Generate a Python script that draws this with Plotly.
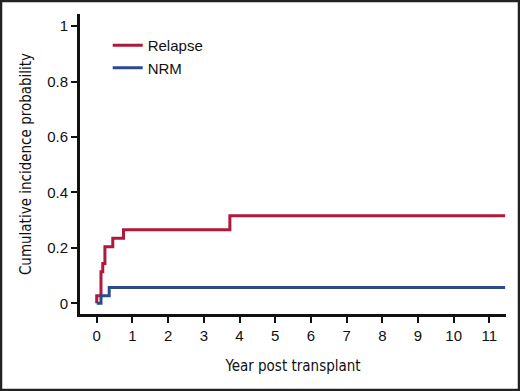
import plotly.graph_objects as go

relapse_x = [0, 0, 0.12, 0.17, 0.23, 0.45, 0.75, 3.73, 11.44]
relapse_y = [0, 0.027, 0.114, 0.144, 0.204, 0.235, 0.265, 0.316, 0.316]
nrm_x = [0, 0.12, 0.35, 11.44]
nrm_y = [0, 0.027, 0.057, 0.057]
x_ticks = list(range(0, 12))
y_ticks = [0, 0.2, 0.4, 0.6, 0.8, 1]
y_ticklabels = ["0", "0.2", "0.4", "0.6", "0.8", "1"]

W, H = 520, 391
ML, MR, MT, MB = 80, 14, 14, 77
pw, ph = W - ML - MR, H - MT - MB

fig = go.Figure()
fig.add_trace(go.Scatter(x=relapse_x, y=relapse_y, mode="lines", line_shape="hv",
                         name="Relapse", line=dict(color="#B0193D", width=3)))
fig.add_trace(go.Scatter(x=nrm_x, y=nrm_y, mode="lines", line_shape="hv",
                         name="NRM", line=dict(color="#2D4A8A", width=3)))

def px2paper_x(p):
    return (p - ML) / pw

def px2paper_y(p):
    return (H - MB - p) / ph

fig.add_shape(type="rect", xref="paper", yref="paper",
              x0=px2paper_x(1), x1=px2paper_x(W - 1),
              y0=px2paper_y(H - 1), y1=px2paper_y(1),
              line=dict(color="#222222", width=2.5), layer="above")

title_font = dict(family="DejaVu Sans Condensed, Liberation Sans Narrow, Arial Narrow, sans-serif", size=15)

fig.update_layout(
    width=W, height=H,
    margin=dict(l=ML, r=MR, t=MT, b=MB),
    plot_bgcolor="white", paper_bgcolor="white",
    font=dict(family="Liberation Sans, Arial, sans-serif", size=15, color="#111111"),
    showlegend=True,
    legend=dict(x=0.065, y=0.95, xanchor="left", yanchor="top",
                bgcolor="rgba(0,0,0,0)", font=dict(size=15), tracegroupgap=0),
    xaxis=dict(range=[-0.468, 11.465], tickvals=x_ticks, ticks="outside", ticklen=6,
               tickwidth=2, tickcolor="#111", showline=True, linewidth=3, linecolor="#111",
               showgrid=False, zeroline=False,
               title=dict(text="Year post transplant", font=title_font, standoff=18)),
    yaxis=dict(range=[-0.0386, 1.044], tickvals=y_ticks, ticktext=y_ticklabels,
               ticks="outside", ticklen=6, tickwidth=2, tickcolor="#111",
               showline=True, linewidth=3, linecolor="#111",
               showgrid=False, zeroline=False,
               title=dict(text="Cumulative incidence probability", font=title_font, standoff=12)),
)
fig.write_html("out.html", config={"displayModeBar": False},
               post_script="document.body.style.margin='0';document.body.style.padding='0';")
